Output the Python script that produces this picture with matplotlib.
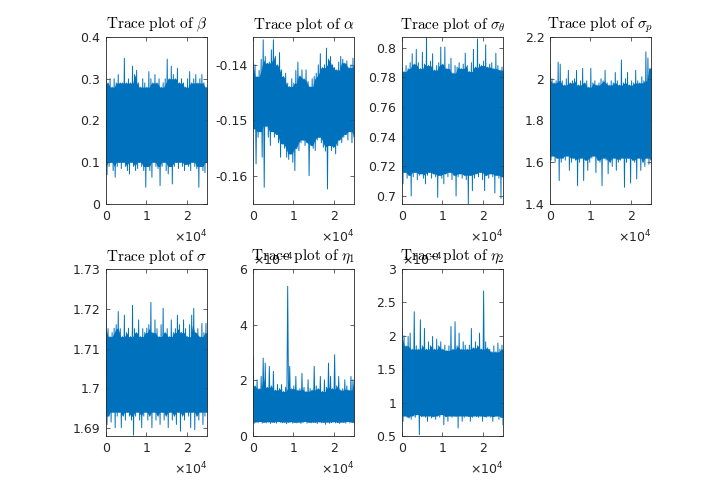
import numpy as np
import matplotlib
matplotlib.use("Agg")
import matplotlib.pyplot as plt
from matplotlib.ticker import FuncFormatter, FixedLocator

plt.rcParams['axes.unicode_minus'] = False
plt.rcParams['font.family'] = ['DejaVu Sans']

n_iter = 25000

# local maxima / minima of each chain (50 per chain)
beta_hi = [0.30, 0.29, 0.30, 0.28, 0.30, 0.29, 0.31, 0.29, 0.29, 0.349,
           0.29, 0.30, 0.29, 0.33, 0.31, 0.32, 0.29, 0.28, 0.30, 0.29,
           0.28, 0.317, 0.30, 0.29, 0.31, 0.29, 0.30, 0.28, 0.29, 0.30,
           0.347, 0.30, 0.33, 0.31, 0.30, 0.325, 0.29, 0.30, 0.29, 0.28,
           0.30, 0.317, 0.29, 0.30, 0.31, 0.29, 0.30, 0.31, 0.29, 0.28]
beta_lo = [0.07, 0.09, 0.10, 0.08, 0.064, 0.09, 0.10, 0.085, 0.10, 0.09,
           0.08, 0.072, 0.10, 0.09, 0.08, 0.085, 0.10, 0.09, 0.08, 0.04,
           0.09, 0.08, 0.064, 0.10, 0.09, 0.085, 0.044, 0.09, 0.10, 0.08,
           0.072, 0.09, 0.048, 0.09, 0.10, 0.085, 0.10, 0.09, 0.08, 0.095,
           0.09, 0.08, 0.10, 0.09, 0.085, 0.04, 0.09, 0.08, 0.075, 0.10]

alpha_hi = [-0.1397, -0.1400, -0.1421, -0.1410, -0.1390, -0.1355, -0.1385, -0.1397, -0.1395, -0.1373,
            -0.1355, -0.1385, -0.1400, -0.1378, -0.1409, -0.1421, -0.1415, -0.1433, -0.1439, -0.1425,
            -0.1433, -0.1410, -0.1395, -0.1420, -0.1409, -0.1425, -0.1409, -0.1430, -0.1439, -0.1425,
            -0.1421, -0.1415, -0.1400, -0.1380, -0.1405, -0.1400, -0.1370, -0.1390, -0.1385, -0.1400,
            -0.1405, -0.1409, -0.1395, -0.1385, -0.1390, -0.1397, -0.1393, -0.1405, -0.1400, -0.1388]
alpha_lo = [-0.1515, -0.1578, -0.1530, -0.1520, -0.1566, -0.1620, -0.1510, -0.1530, -0.1545, -0.1520,
            -0.1530, -0.1525, -0.1540, -0.1566, -0.1542, -0.1550, -0.1566, -0.1570, -0.1560, -0.1575,
            -0.1590, -0.1550, -0.1554, -0.1540, -0.1535, -0.1545, -0.1540, -0.1599, -0.1545, -0.1550,
            -0.1554, -0.1535, -0.1530, -0.1540, -0.1548, -0.1555, -0.1623, -0.1545, -0.1554, -0.1548,
            -0.1560, -0.1545, -0.1535, -0.1540, -0.1530, -0.1525, -0.1535, -0.1520, -0.1540, -0.1530]

sig_theta_hi = [0.787, 0.784, 0.788, 0.786, 0.790, 0.796, 0.789, 0.799, 0.790, 0.786,
                0.797, 0.789, 0.8073, 0.788, 0.791, 0.796, 0.785, 0.788, 0.790, 0.8005,
                0.789, 0.8005, 0.786, 0.789, 0.793, 0.783, 0.788, 0.787, 0.790, 0.786,
                0.789, 0.7964, 0.788, 0.784, 0.790, 0.799, 0.787, 0.806, 0.789, 0.788,
                0.791, 0.802, 0.787, 0.789, 0.790, 0.786, 0.7964, 0.788, 0.785, 0.787]
sig_theta_lo = [0.7082, 0.716, 0.712, 0.714, 0.7000, 0.713, 0.716, 0.711, 0.714, 0.715,
                0.712, 0.7082, 0.714, 0.716, 0.712, 0.715, 0.713, 0.6991, 0.714, 0.712,
                0.7082, 0.715, 0.713, 0.716, 0.711, 0.714, 0.700, 0.713, 0.715, 0.712,
                0.714, 0.711, 0.6946, 0.714, 0.7036, 0.712, 0.715, 0.713, 0.716, 0.711,
                0.7036, 0.714, 0.712, 0.715, 0.713, 0.702, 0.714, 0.712, 0.6985, 0.713]

sig_p_hi = [2.067, 2.00, 1.98, 1.99, 2.08, 2.07, 1.99, 1.97, 2.00, 2.04,
            1.98, 1.99, 2.00, 2.04, 1.97, 1.99, 2.05, 1.98, 1.99, 1.96,
            2.05, 1.98, 1.99, 1.97, 1.98, 2.00, 1.99, 2.04, 1.98, 1.97,
            1.99, 1.98, 2.03, 1.99, 1.97, 2.09, 1.98, 2.00, 2.03, 1.97,
            1.99, 1.98, 2.04, 1.99, 1.98, 2.01, 1.99, 2.129, 2.099, 2.05]
sig_p_lo = [1.61, 1.63, 1.60, 1.62, 1.512, 1.60, 1.62, 1.61, 1.63, 1.561,
            1.60, 1.62, 1.61, 1.488, 1.60, 1.62, 1.512, 1.61, 1.561, 1.60,
            1.62, 1.63, 1.55, 1.61, 1.60, 1.488, 1.62, 1.61, 1.545, 1.60,
            1.58, 1.62, 1.561, 1.60, 1.61, 1.62, 1.48, 1.60, 1.62, 1.50,
            1.61, 1.60, 1.52, 1.62, 1.561, 1.60, 1.58, 1.62, 1.59, 1.61]

sig_hi = [1.7193, 1.715, 1.713, 1.714, 1.7151, 1.716, 1.7193, 1.715, 1.713, 1.7184,
          1.714, 1.7151, 1.713, 1.7209, 1.715, 1.714, 1.7172, 1.713, 1.715, 1.714,
          1.7151, 1.716, 1.7216, 1.714, 1.7172, 1.715, 1.713, 1.716, 1.7201, 1.714,
          1.715, 1.713, 1.7172, 1.714, 1.715, 1.7184, 1.716, 1.714, 1.7172, 1.715,
          1.713, 1.716, 1.7184, 1.7201, 1.714, 1.715, 1.713, 1.7163, 1.714, 1.7163]
sig_lo = [1.6909, 1.693, 1.6915, 1.694, 1.6901, 1.693, 1.694, 1.6901, 1.693, 1.692,
          1.694, 1.693, 1.692, 1.6882, 1.693, 1.694, 1.692, 1.6901, 1.693, 1.694,
          1.692, 1.693, 1.6901, 1.694, 1.692, 1.693, 1.6909, 1.694, 1.692, 1.693,
          1.6901, 1.694, 1.692, 1.693, 1.6909, 1.694, 1.6892, 1.693, 1.692, 1.694,
          1.693, 1.6901, 1.694, 1.6896, 1.693, 1.692, 1.694, 1.6909, 1.693, 1.694]

# eta values in units of 1e-4
eta1_hi = [2.86, 1.8, 2.02, 1.7, 2.14, 2.80, 2.62, 1.75, 2.50, 1.8,
           2.32, 1.65, 1.85, 1.7, 1.85, 1.6, 1.75, 5.38, 2.5, 1.7,
           1.8, 2.14, 1.65, 1.7, 2.25, 1.75, 1.6, 2.02, 1.7, 1.65,
           2.5, 1.8, 1.7, 2.14, 1.6, 2.02, 1.75, 2.62, 2.14, 1.7,
           2.92, 1.8, 2.14, 1.65, 1.7, 2.02, 1.8, 1.65, 2.14, 2.02]
eta1_lo = [0.45, 0.50, 0.48, 0.52, 0.46, 0.49, 0.47, 0.51, 0.45, 0.50,
           0.48, 0.46, 0.52, 0.49, 0.47, 0.50, 0.44, 0.48, 0.51, 0.46,
           0.49, 0.47, 0.50, 0.45, 0.48, 0.52, 0.46, 0.49, 0.47, 0.50,
           0.48, 0.45, 0.51, 0.47, 0.49, 0.42, 0.50, 0.46, 0.48, 0.51,
           0.47, 0.49, 0.45, 0.50, 0.48, 0.46, 0.52, 0.47, 0.49, 0.48]

eta2_hi = [2.11, 2.00, 1.85, 1.99, 2.04, 1.80, 2.36, 1.85, 1.80, 2.24,
           1.85, 2.11, 1.80, 1.91, 1.85, 1.99, 1.80, 1.95, 1.85, 1.91,
           1.80, 1.86, 1.78, 1.85, 2.14, 1.80, 2.21, 1.85, 2.04, 1.80,
           1.91, 1.86, 1.80, 1.86, 2.11, 1.82, 1.91, 1.85, 2.04, 1.80,
           2.67, 1.91, 1.82, 1.80, 1.76, 1.85, 1.76, 1.89, 1.80, 1.86]
eta2_lo = [0.72, 0.80, 0.78, 0.77, 0.75, 0.80, 0.78, 0.82, 0.52, 0.79,
           0.80, 0.78, 0.72, 0.80, 0.77, 0.79, 0.75, 0.80, 0.78, 0.82,
           0.67, 0.79, 0.72, 0.80, 0.78, 0.80, 0.79, 0.62, 0.80, 0.72,
           0.78, 0.80, 0.79, 0.72, 0.78, 0.80, 0.79, 0.78, 0.80, 0.72,
           0.79, 0.78, 0.80, 0.78, 0.72, 0.79, 0.80, 0.75, 0.78, 0.67]

titles = [r'\beta', r'\alpha', r'\sigma_\theta', r'\sigma_p',
          r'\sigma', r'\eta_1', r'\eta_2']
series = [(beta_hi, beta_lo), (alpha_hi, alpha_lo), (sig_theta_hi, sig_theta_lo),
          (sig_p_hi, sig_p_lo), (sig_hi, sig_lo), (eta1_hi, eta1_lo), (eta2_hi, eta2_lo)]
ylims = [(0, 0.4), (-0.165, -0.135), (0.6946, 0.8073), (1.4, 2.2),
         (1.688, 1.73), (0, 6), (0.5, 3)]
yticks = [[0, 0.1, 0.2, 0.3, 0.4], [-0.16, -0.15, -0.14],
          [0.7, 0.72, 0.74, 0.76, 0.78, 0.8], [1.4, 1.6, 1.8, 2, 2.2],
          [1.69, 1.7, 1.71, 1.72, 1.73], [0, 2, 4, 6], [0.5, 1, 1.5, 2, 2.5, 3]]
y_scaled = [False, False, False, False, False, True, True]


def rolling(a, fn, w=3):
    a = np.asarray(a, dtype=float)
    p = np.pad(a, w // 2, mode='edge')
    return np.array([fn(p[i:i + w]) for i in range(len(a))])


fig = plt.figure(figsize=(7.2, 4.91), dpi=100)
W, H = 720, 491
lefts = [106, 253, 402, 550]
tops = [37, 269]
aw, ah = 101, 167

tick_col = '#262626'
line_col = '#0072BD'

for k in range(7):
    r, c = divmod(k, 4)
    ax = fig.add_axes([lefts[c] / W, 1 - (tops[r] + ah) / H, aw / W, ah / H])
    hi, lo = series[k]
    y = np.empty(2 * len(hi))
    y[0::2] = hi
    y[1::2] = lo
    x = np.linspace(0, n_iter, len(y))
    # dense core of the chain, then the trace itself for the excursions
    xc = np.linspace(0, n_iter, len(hi))
    ax.fill_between(xc, rolling(lo, np.max), rolling(hi, np.min),
                    color=line_col, lw=0)
    ax.plot(x, y, color=line_col, lw=0.7)

    ax.set_xlim(0, n_iter)
    ax.set_ylim(*ylims[k])
    ax.xaxis.set_major_locator(FixedLocator([0, 10000, 20000]))
    ax.xaxis.set_major_formatter(FuncFormatter(lambda v, p: '%g' % (v / 1e4)))
    ax.yaxis.set_major_locator(FixedLocator(yticks[k]))
    ax.yaxis.set_major_formatter(FuncFormatter(lambda v, p: '%g' % round(v, 4)))
    ax.tick_params(direction='in', top=True, right=True, length=3, width=0.5,
                   colors=tick_col, labelsize=9, pad=4)
    for s in ax.spines.values():
        s.set_color(tick_col)
        s.set_linewidth(0.6)

    ax.set_title(r'$\mathrm{Trace\ plot\ of}\ ' + titles[k] + '$',
                 math_fontfamily='cm', fontsize=11, y=1.0, pad=6, color='black')
    ax.text(1.0, -0.145, r'$\times10^{4}$', transform=ax.transAxes,
            ha='right', va='top', fontsize=9, color=tick_col)
    if y_scaled[k]:
        ax.text(0.0, 1.005, r'$\times10^{-4}$', transform=ax.transAxes,
                ha='left', va='bottom', fontsize=9, color=tick_col)

fig.savefig('out.png', dpi=100, facecolor='white')
